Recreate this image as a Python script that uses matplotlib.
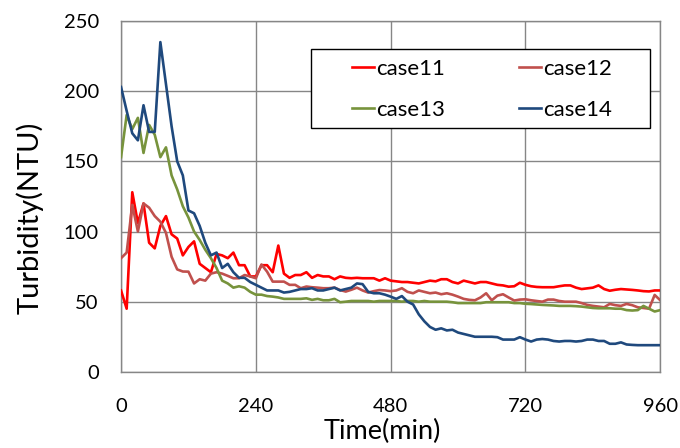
import numpy as np
import matplotlib.pyplot as plt
from matplotlib.patches import Rectangle

# sampling every 10 min, 0..960
time_min = list(range(0, 961, 10))

case11 = [58, 45, 128, 106, 120, 92, 88, 104, 111, 98,
          95, 83, 89, 93, 77, 74, 71, 84, 83, 81,
          85, 76, 76, 68, 68, 76, 76, 71, 90, 70,
          67, 69, 69, 71, 67, 69, 68, 68, 66, 68,
          67, 66.7, 67, 66.7, 66.7, 66.7, 65, 66.7, 65, 64.5,
          64, 64, 63.5, 63, 64, 65, 64.5, 66, 66, 64,
          63, 65, 64, 63, 64, 64, 63, 62, 61.6, 60.7,
          61, 63.5, 62, 61, 60.5, 60.3, 60.3, 60.3, 61, 61.6,
          61.6, 60, 59, 59.5, 60, 61.6, 59, 57.8, 58.5, 59,
          58.7, 58.4, 58, 57.5, 57.3, 58, 58]

case12 = [81, 85, 119, 100, 120, 117, 111, 107, 99, 82,
          73, 71.5, 71.4, 63, 66, 65, 70, 71, 70, 68.4,
          66.7, 66.7, 69, 68, 66.7, 76.5, 71.4, 64.3, 64.3, 64.3,
          62, 62, 59.6, 60.8, 60.3, 60, 59.6, 59.6, 60, 58.3,
          57.2, 58.5, 60, 58, 56.5, 57.5, 58.3, 58, 57.5, 58,
          59.6, 57, 56, 58, 57, 56, 56.5, 55.3, 56, 55,
          53.6, 52, 51.3, 51, 53, 56, 51, 54.3, 55.3, 53,
          50.8, 51.5, 51.7, 51, 50.5, 50, 51.5, 51.5, 50.5, 50,
          50, 50, 49, 47.7, 47, 46.5, 46, 48.4, 47.5, 47,
          48.4, 47.5, 46, 45.5, 45, 54.8, 51]

case13 = [153, 183, 173, 181, 156, 176, 169, 153, 160, 140,
          130, 118, 110, 100, 94, 87, 81, 74, 65, 63,
          60, 61, 60, 57, 55, 55, 54, 53.6, 53, 52,
          52, 52, 52, 52.4, 51.3, 52, 51, 51, 52, 49.6,
          50, 50.5, 50.5, 50.5, 50.5, 50, 50.5, 50.5, 50.5, 50.5,
          50, 50.5, 50.5, 50, 50.5, 50, 50, 50, 50, 49.6,
          49, 49, 49, 49, 49, 49.6, 49.6, 49.6, 49.6, 49.6,
          49, 49, 48.5, 48.3, 48, 47.7, 47.5, 47.3, 47, 47,
          47, 46.8, 46.5, 46, 45.5, 45.3, 45.3, 45.3, 45, 45,
          44, 43.7, 44, 47, 45, 43, 44]

case14 = [203, 186, 170, 165, 190, 171, 171, 235, 205, 175,
          150, 140, 115, 113, 104, 92, 83, 85, 74, 77,
          71, 67, 67, 64, 62, 60, 58, 58, 58, 56.5,
          57, 58, 59, 59, 59.6, 58, 58, 59, 60, 58,
          59, 60, 63, 62.5, 57, 56, 56, 55, 53.6, 52,
          54, 50, 48, 41, 36, 32, 30, 31, 29.5, 30,
          28, 27, 26, 25, 25, 25, 25, 24.7, 23, 23,
          23, 24.7, 23, 21.6, 23, 23.4, 23, 22, 21.6, 22,
          22, 21.6, 22, 23, 23, 22, 22, 20, 20, 21,
          19.5, 19.2, 19, 19, 19, 19, 19]

series_names = ['case11', 'case12', 'case13', 'case14']
series_colors = ['#FF0000', '#C0504D', '#77933C', '#1F497D']

plt.rcParams['font.family'] = ['Lato', 'DejaVu Sans']

fig = plt.figure(figsize=(6.8, 4.48), dpi=100)
ax = fig.add_axes([0.178, 0.170, 0.793, 0.783])

lines = {}
for name, vals, col in zip(series_names, [case11, case12, case13, case14], series_colors):
    ln, = ax.plot(time_min, vals, color=col, lw=1.9, label=name, zorder=3)
    lines[name] = ln

ax.set_xlim(0, 960)
ax.set_ylim(0, 250)
ax.set_xticks([0, 240, 480, 720, 960])
ax.set_yticks([0, 50, 100, 150, 200, 250])
ax.grid(True, color='#868686', lw=1.0)
for s in ax.spines.values():
    s.set_color('#868686')
    s.set_linewidth(1.0)
ax.tick_params(length=0, labelsize=14.5, colors='black')
ax.tick_params(axis='y', pad=16)
ax.tick_params(axis='x', pad=19)

ax.set_xlabel('Time(min)', fontsize=19.5)
ax.set_ylabel('Turbidity(NTU)', fontsize=21)
ax.xaxis.set_label_coords(0.484, -0.135)
ax.yaxis.set_label_coords(-0.143, 0.44)

# legend: row 1 case11/case12, row 2 case13/case14
order = ['case11', 'case13', 'case12', 'case14']
leg = ax.legend([lines[n] for n in order], order, ncol=2,
                loc='upper left', bbox_to_anchor=(0.4286, 0.893),
                fontsize=16, handlelength=1.0, handletextpad=0.1,
                columnspacing=3.3, frameon=False, borderpad=0,
                labelspacing=0.95, borderaxespad=0)
# legend frame box
ax.add_patch(Rectangle((0.3525, 0.695), 0.629, 0.225, transform=ax.transAxes,
                       facecolor='white', edgecolor='black', lw=1.0, zorder=4))
leg.set_zorder(5)

fig.savefig('out.png', dpi=100)
